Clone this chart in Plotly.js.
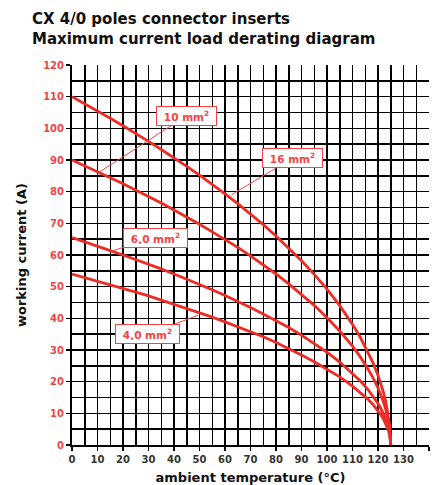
<!DOCTYPE html>
<html>
<head>
<meta charset="utf-8">
<script src="https://cdn.plot.ly/plotly-3.0.1.min.js"></script>
<style>
html,body{margin:0;padding:0;background:#fff;}
#chart{width:438px;height:485px;}
</style>
</head>
<body>
<div id="chart"></div>
<script>
// ambient temperature (°C)
const temperature = [0,5,10,15,20,25,30,35,40,45,50,55,60,65,70,75,80,85,90,95,100,105,110,113,116,118,120,121,122,123,124,124.6,125];
// working current (A) per conductor cross-section
const current16 = [110,107.8,105.5,103.2,100.8,98.4,95.9,93.3,90.7,88,85.2,82.3,79.3,76.2,73,69.6,66,62.2,58.2,53.9,49.2,44,38.1,34.1,29.5,26,22,19.7,17,13.9,9.8,6.2,0];
const current10 = [90,88.2,86.3,84.4,82.5,80.5,78.5,76.4,74.2,72,69.7,67.3,64.9,62.4,59.7,56.9,54,50.9,47.6,44.1,40.2,36,31.2,27.9,24.1,21.3,18,16.1,13.9,11.4,8,5.1,0];
const current6  = [65.5,64.2,62.8,61.4,60,58.6,57.1,55.6,54,52.4,50.7,49,47.2,45.4,43.4,41.4,39.3,37.1,34.7,32.1,29.3,26.2,22.7,20.3,17.6,15.5,13.1,11.7,10.1,8.3,5.9,3.7,0];
const current4  = [54,52.9,51.8,50.7,49.5,48.3,47.1,45.8,44.5,43.2,41.8,40.4,38.9,37.4,35.8,34.2,32.4,30.5,28.4,26.3,24,21.5,18.6,16.7,14.5,12.8,10.8,9.7,8.4,6.8,4.8,3.1,0];
const seriesNames = ['16 mm²','10 mm²','6,0 mm²','4,0 mm²'];
const labelTexts = ['16 mm<sup>2</sup>','10 mm<sup>2</sup>','6,0 mm<sup>2</sup>','4,0 mm<sup>2</sup>'];
const xTicks = [0,10,20,30,40,50,60,70,80,90,100,110,120,130,140];
const yTicks = [0,10,20,30,40,50,60,70,80,90,100,110,120];

const lineRed = '#ee2b24';
const labelRed = '#f94343';
const fontFam = '"DejaVu Sans", "Liberation Sans", Arial, sans-serif';

const seriesValues = [current16, current10, current6, current4];
const traces = seriesValues.map((vals, i) => ({
  type: 'scatter', mode: 'lines', name: seriesNames[i],
  x: temperature, y: vals,
  line: {color: lineRed, width: 2.8, shape: 'linear'},
  hoverinfo: 'skip', showlegend: false
}));

// label placement: [text center T, text center I, arrow tip T, arrow tip I]
const labelPos = [
  [86.3, 90.5, 62.5, 79.0],
  [44.9, 104.0, 10.8, 86.2],
  [32.6, 65.4, 15.3, 61.2],
  [29.5, 34.9, 49.5, 41.0]
];
const labelWidths = [53, 53, 57, 57];

const annotations = labelPos.map((p, i) => ({
  x: p[2], y: p[3], xref: 'x', yref: 'y',
  ax: p[0], ay: p[1], axref: 'x', ayref: 'y',
  text: labelTexts[i],
  showarrow: true, arrowhead: 0, arrowwidth: 1, arrowcolor: labelRed,
  font: {family: fontFam, size: 10.5, color: labelRed, weight: 'bold'},
  bgcolor: '#ffffff', bordercolor: labelRed, borderwidth: 1, borderpad: 3,
  width: labelWidths[i], height: 12, align: 'center'
}));

const layout = {
  width: 438, height: 485,
  margin: {l: 72, r: 9, t: 65, b: 40},
  paper_bgcolor: '#ffffff', plot_bgcolor: '#ffffff',
  title: {
    text: 'CX 4/0 poles connector inserts<br>Maximum current load derating diagram',
    x: 32/438, xref: 'container', xanchor: 'left',
    y: 1 - 24/485, yref: 'container', yanchor: 'top',
    font: {family: fontFam, size: 15, color: '#111', weight: 'bold'}
  },
  xaxis: {
    range: [0, 140], tickmode: 'array', tickvals: xTicks, ticktext: xTicks.map(String),
    showgrid: true, gridcolor: '#000', gridwidth: 1.5,
    minor: {dtick: 5, tick0: 0, showgrid: true, gridcolor: '#000', gridwidth: 1.5},
    zeroline: false, showline: true, linecolor: '#000', linewidth: 2,
    ticks: 'outside', ticklen: 4, tickwidth: 1.5, tickcolor: '#000',
    tickfont: {family: fontFam, size: 10, color: '#333', weight: 'bold'},
    title: {text: 'ambient temperature (°C)', standoff: 9,
      font: {family: fontFam, size: 13, color: '#111', weight: 'bold'}},
    fixedrange: true
  },
  yaxis: {
    range: [0, 120], tickmode: 'array', tickvals: yTicks, ticktext: yTicks.map(String),
    showgrid: true, gridcolor: '#000', gridwidth: 1.5,
    minor: {dtick: 5, tick0: 0, showgrid: true, gridcolor: '#000', gridwidth: 1.5},
    zeroline: false, showline: true, linecolor: '#000', linewidth: 2,
    ticks: 'outside', ticklen: 4, tickwidth: 1.5, tickcolor: '#000',
    tickfont: {family: fontFam, size: 10, color: labelRed, weight: 'bold'},
    title: {text: 'working current (A)', standoff: 14,
      font: {family: fontFam, size: 13, color: '#111', weight: 'bold'}},
    fixedrange: true
  },
  annotations: annotations,
  showlegend: false
};

Plotly.newPlot('chart', traces, layout, {displayModeBar: false, staticPlot: true});
</script>
</body>
</html>
